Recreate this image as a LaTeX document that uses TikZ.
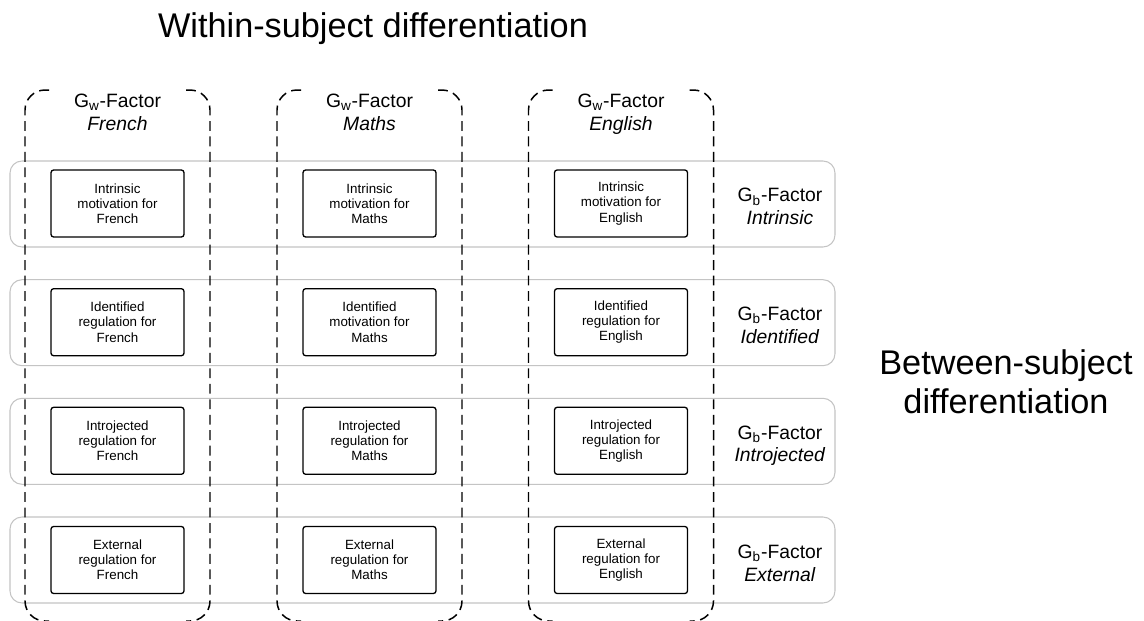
\documentclass[tikz,border=0pt]{standalone}
\usepackage{fontspec}
\setmainfont{Liberation Sans}
\definecolor{rowgray}{RGB}{196,196,196}
\begin{document}
\begin{tikzpicture}[x=0.02cm,y=-0.02cm,
  rowbox/.style={draw=rowgray,line width=0.6pt,rounded corners=0.24cm},
  coldash/.style={draw=black,line width=0.85pt,dash pattern=on 5.6pt off 3.2pt,rounded corners=0.4cm},
  itembox/.style={draw=black,line width=0.75pt,rounded corners=1.5pt,minimum width=2.66cm,minimum height=1.34cm,align=center,inner sep=1pt,font=\fontsize{7.6}{8.6}\selectfont},
  glabel/.style={align=center,font=\fontsize{11}{13}\selectfont},
  biglabel/.style={align=center,font=\fontsize{19.5}{22}\selectfont}]
\useasboundingbox (0,0) rectangle (1144,620);
\clip (0,0) rectangle (1144,620);
\fill[white] (0,0) rectangle (1144,620);

% titles
\node[biglabel] (title) at (373,29) {Within-subject differentiation};
\node[biglabel] (between) at (1006,382) {Between-subject\\differentiation};

% rows (between-subject groups)
\foreach \y/\n in {161/1,279.7/2,398.3/3,517/4}{
  \draw[rowbox] (10,\y) rectangle (835,\y+86);
}

% columns (within-subject groups)
\foreach \c/\s/\n in {117.5/French/1,369.5/Maths/2,621/English/3}{
  \draw[coldash] (\c-92.5+24,90) -- (\c-92.5,90) -- (\c-92.5,621) -- (\c-92.5+24,621);
  \draw[coldash] (\c+92.5-24,90) -- (\c+92.5,90) -- (\c+92.5,621) -- (\c+92.5-24,621);
  \node[glabel] (gw\n) at (\c,114) {G\textsubscript{w}-Factor\\\textit{\s}\vphantom{gj}};
}

% G_b labels
\foreach \y/\s/\n in {203.5/Intrinsic/1,322.2/Identified/2,440.8/Introjected/3,560/External/4}{
  \node[glabel] (gb\n) at (780,\y+5) {G\textsubscript{b}-Factor\\\textit{\s}\vphantom{gj}};
}

% item boxes
\node[itembox] (f1) at (117.5,203.5) {Intrinsic\\motivation for\\French};
\node[itembox] (m1) at (369.5,203.5) {Intrinsic\\motivation for\\Maths};
\node[itembox] (e1) at (621,203.5) {Intrinsic\\motivation for\\English};
\node[itembox] (f2) at (117.5,322.2) {Identified\\regulation for\\French};
\node[itembox] (m2) at (369.5,322.2) {Identified\\motivation for\\Maths};
\node[itembox] (e2) at (621,322.2) {Identified\\regulation for\\English};
\node[itembox] (f3) at (117.5,440.8) {Introjected\\regulation for\\French};
\node[itembox] (m3) at (369.5,440.8) {Introjected\\regulation for\\Maths};
\node[itembox] (e3) at (621,440.8) {Introjected\\regulation for\\English};
\node[itembox] (f4) at (117.5,560) {External\\regulation for\\French};
\node[itembox] (m4) at (369.5,560) {External\\regulation for\\Maths};
\node[itembox] (e4) at (621,560) {External\\regulation for\\English};
\end{tikzpicture}
\end{document}
